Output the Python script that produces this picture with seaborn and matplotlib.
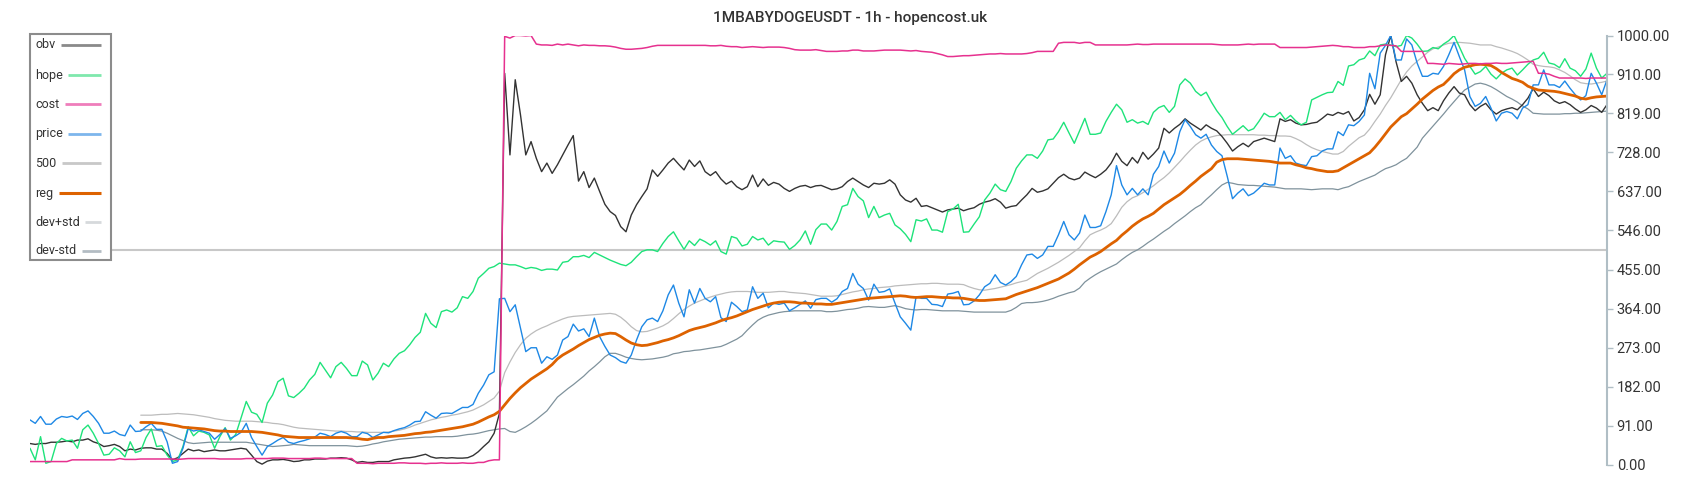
import numpy as np
import pandas as pd
import seaborn as sns
import matplotlib.pyplot as plt
from matplotlib.lines import Line2D
from matplotlib.patches import Rectangle

title = "1MBABYDOGEUSDT - 1h - hopencost.uk"
yticks = [0, 91, 182, 273, 364, 455, 546, 637, 728, 819, 910, 1000]
level = 500
warmup = 21  # reg / dev bands start after the rolling window

obv = [
    50, 48, 50, 50, 53, 53, 54, 56, 54, 58,
    58, 61, 54, 50, 43, 45, 48, 43, 33, 37,
    35, 39, 40, 40, 37, 37, 27, 12, 17, 27,
    37, 33, 35, 31, 33, 35, 33, 33, 35, 37,
    39, 37, 23, 8, 2, 9, 12, 12, 13, 11,
    8, 9, 12, 12, 14, 14, 14, 16, 16, 17,
    16, 12, 6, 8, 6, 6, 8, 8, 8, 12,
    14, 16, 17, 19, 22, 25, 19, 16, 17, 16,
    17, 16, 16, 17, 22, 31, 43, 54, 74, 120,
    912, 722, 897, 815, 722, 753, 714, 683, 703, 679,
    699, 722, 745, 767, 661, 683, 646, 668, 637, 607,
    590, 581, 555, 543, 582, 606, 625, 643, 687, 672,
    687, 703, 714, 700, 687, 710, 695, 708, 683, 674,
    683, 666, 654, 661, 648, 641, 648, 675, 648, 666,
    651, 658, 654, 644, 637, 644, 649, 651, 646, 650,
    651, 646, 641, 643, 648, 660, 668, 660, 652, 646,
    656, 654, 656, 664, 654, 629, 617, 612, 621, 602,
    604, 599, 594, 589, 594, 596, 598, 592, 596, 599,
    607, 612, 615, 620, 612, 598, 602, 604, 617, 629,
    644, 635, 638, 643, 656, 669, 677, 668, 664, 668,
    682, 675, 669, 677, 687, 703, 726, 707, 697, 716,
    703, 728, 712, 724, 738, 784, 773, 784, 793, 806,
    796, 788, 780, 792, 784, 778, 765, 749, 731, 741,
    749, 741, 753, 757, 761, 757, 753, 806, 800, 804,
    796, 792, 793, 796, 798, 807, 817, 814, 821, 817,
    823, 801, 809, 827, 863, 840, 862, 955, 1000, 939,
    893, 905, 889, 862, 842, 825, 832, 825, 848, 866,
    881, 866, 862, 839, 825, 835, 842, 827, 817, 825,
    829, 832, 827, 839, 854, 876, 858, 868, 860, 848,
    842, 846, 839, 829, 821, 827, 837, 831, 821, 839,
]

hope = [
    39, 12, 66, 4, 8, 50, 62, 56, 58, 39,
    82, 93, 74, 50, 23, 25, 40, 33, 19, 54,
    29, 33, 64, 84, 43, 45, 23, 8, 12, 43,
    89, 68, 79, 76, 70, 39, 66, 87, 58, 71,
    109, 148, 123, 118, 99, 144, 163, 194, 202, 161,
    157, 167, 179, 198, 211, 239, 221, 203, 229, 239,
    225, 208, 208, 242, 233, 198, 214, 237, 229, 247,
    260, 266, 280, 297, 309, 353, 330, 320, 357, 361,
    356, 366, 392, 388, 404, 435, 446, 458, 462, 470,
    468, 466, 466, 462, 457, 460, 458, 453, 456, 456,
    454, 472, 474, 485, 485, 488, 483, 495, 489, 483,
    477, 472, 467, 464, 472, 485, 497, 501, 501, 497,
    516, 532, 543, 522, 502, 522, 511, 526, 520, 512,
    522, 497, 491, 532, 528, 510, 514, 532, 524, 528,
    512, 522, 520, 519, 502, 511, 524, 545, 514, 548,
    561, 561, 547, 567, 602, 606, 644, 625, 615, 576,
    602, 576, 582, 586, 559, 550, 537, 520, 571, 568,
    573, 547, 547, 542, 590, 596, 607, 542, 543, 561,
    578, 617, 633, 654, 641, 637, 660, 691, 708, 722,
    722, 714, 731, 757, 759, 776, 798, 773, 749, 778,
    807, 770, 770, 773, 800, 821, 840, 827, 798, 804,
    796, 800, 793, 821, 832, 837, 821, 835, 885, 899,
    889, 870, 860, 868, 845, 825, 809, 788, 770, 780,
    790, 778, 783, 800, 819, 811, 811, 821, 804, 814,
    801, 792, 798, 850, 856, 862, 867, 868, 893, 884,
    929, 932, 943, 947, 964, 953, 978, 980, 978, 974,
    977, 1000, 994, 980, 963, 964, 972, 969, 980, 988,
    1000, 974, 947, 928, 910, 916, 928, 910, 899, 912,
    920, 924, 908, 920, 933, 943, 947, 961, 936, 933,
    925, 946, 924, 918, 905, 922, 959, 924, 901, 912,
]

cost = [
    8, 8, 8, 8, 8, 8, 8, 8, 12, 12,
    12, 12, 12, 12, 12, 12, 12, 15, 13, 13,
    13, 14, 14, 14, 14, 14, 14, 14, 13, 14,
    15, 15, 15, 15, 15, 15, 14, 14, 14, 14,
    14, 15, 15, 15, 15, 15, 16, 16, 16, 15,
    15, 15, 15, 15, 16, 16, 15, 15, 15, 15,
    15, 15, 4, 4, 4, 3, 4, 4, 4, 4,
    5, 5, 4, 4, 4, 3, 4, 4, 5, 4,
    4, 4, 5, 4, 4, 6, 6, 10, 12, 12,
    998, 994, 1000, 1000, 999, 1000, 980, 978, 978, 977,
    980, 978, 980, 978, 976, 978, 977, 977, 976, 976,
    975, 973, 970, 968, 968, 969, 970, 972, 975, 977,
    977, 977, 977, 977, 977, 977, 977, 977, 977, 976,
    976, 977, 975, 974, 974, 972, 973, 974, 973, 972,
    973, 973, 973, 972, 970, 967, 966, 966, 966, 967,
    965, 963, 963, 963, 964, 964, 966, 966, 964, 964,
    964, 965, 966, 966, 966, 966, 965, 964, 965, 963,
    962, 961, 958, 955, 951, 951, 952, 953, 953, 954,
    955, 956, 957, 957, 958, 957, 957, 957, 957, 958,
    960, 963, 963, 963, 963, 982, 984, 984, 984, 982,
    984, 984, 978, 978, 978, 978, 978, 978, 978, 979,
    980, 979, 979, 980, 980, 980, 980, 980, 980, 980,
    980, 980, 980, 980, 980, 979, 978, 978, 978, 978,
    979, 980, 979, 980, 980, 980, 980, 972, 972, 972,
    972, 972, 972, 973, 974, 975, 976, 977, 976, 974,
    974, 972, 972, 972, 974, 974, 976, 978, 977, 976,
    963, 963, 963, 963, 963, 935, 935, 934, 933, 935,
    934, 933, 934, 935, 935, 934, 935, 935, 936, 935,
    935, 936, 937, 938, 939, 940, 912, 912, 910, 905,
    901, 901, 901, 901, 901, 900, 901, 901, 901, 901,
]

price = [
    105, 97, 113, 95, 95, 107, 113, 111, 114, 106,
    120, 126, 113, 97, 74, 74, 79, 71, 68, 93,
    78, 79, 89, 97, 83, 83, 54, 4, 8, 39,
    85, 79, 82, 78, 74, 60, 71, 85, 62, 68,
    76, 97, 64, 43, 23, 43, 50, 58, 64, 53,
    50, 54, 57, 61, 65, 74, 71, 66, 74, 78,
    74, 66, 66, 76, 73, 64, 70, 76, 75, 80,
    84, 87, 93, 101, 102, 124, 116, 109, 120, 121,
    120, 127, 134, 134, 141, 167, 186, 210, 217, 387,
    388, 357, 373, 318, 264, 273, 273, 237, 252, 246,
    256, 291, 299, 328, 312, 317, 299, 342, 299, 276,
    256, 250, 241, 237, 256, 291, 322, 338, 342, 334,
    359, 396, 419, 377, 345, 408, 377, 411, 388, 380,
    392, 343, 334, 379, 369, 357, 361, 415, 388, 400,
    366, 377, 374, 377, 359, 366, 374, 382, 365, 385,
    388, 388, 379, 387, 404, 411, 446, 421, 411, 384,
    421, 402, 404, 410, 377, 345, 330, 314, 392, 388,
    388, 374, 373, 369, 398, 400, 404, 373, 374, 382,
    396, 415, 423, 443, 425, 419, 427, 439, 466, 489,
    491, 481, 489, 509, 509, 536, 567, 536, 524, 540,
    582, 553, 553, 557, 590, 629, 697, 652, 629, 644,
    629, 643, 629, 677, 695, 731, 703, 726, 776, 804,
    788, 769, 761, 770, 745, 730, 720, 672, 620, 633,
    643, 627, 633, 644, 656, 652, 652, 738, 714, 720,
    703, 699, 697, 718, 720, 731, 736, 736, 776, 767,
    792, 790, 800, 815, 912, 876, 959, 977, 1000, 943,
    943, 992, 978, 936, 905, 905, 912, 910, 928, 955,
    984, 951, 920, 858, 835, 842, 858, 831, 801, 819,
    823, 819, 806, 831, 839, 885, 885, 920, 885, 885,
    879, 894, 877, 862, 850, 860, 912, 889, 862, 897,
]

# rolling regression line and its +/- std band (from index `warmup` on)
reg = [
    99, 99, 99, 98, 97, 95, 93, 91, 88,
    87, 86, 85, 84, 82, 80, 79, 79, 78, 78,
    78, 78, 78, 77, 76, 74, 72, 70, 67, 66,
    65, 64, 64, 64, 64, 64, 64, 64, 64, 64,
    64, 63, 62, 60, 59, 62, 64, 64, 66, 67,
    68, 69, 71, 73, 74, 76, 77, 79, 81, 83,
    85, 87, 89, 92, 95, 100, 106, 112, 117, 125,
    140, 155, 168, 180, 190, 200, 208, 216, 224, 234,
    247, 256, 263, 270, 278, 285, 292, 297, 302, 305,
    307, 306, 299, 291, 284, 280, 278, 279, 282, 285,
    289, 292, 296, 301, 307, 313, 317, 320, 323, 327,
    331, 336, 340, 343, 347, 352, 357, 362, 366, 370,
    374, 377, 379, 380, 380, 379, 377, 377, 376, 375,
    375, 374, 374, 376, 378, 380, 382, 384, 386, 388,
    389, 390, 391, 392, 393, 394, 393, 391, 390, 391,
    392, 392, 391, 390, 390, 389, 389, 388, 386, 384,
    383, 383, 384, 385, 386, 387, 392, 397, 401, 405,
    409, 413, 418, 423, 428, 433, 440, 447, 456, 466,
    475, 484, 490, 497, 506, 515, 523, 535, 545, 556,
    565, 573, 579, 586, 596, 606, 614, 622, 630, 640,
    651, 661, 672, 681, 690, 705, 711, 713, 713, 713,
    712, 711, 710, 709, 708, 707, 705, 703, 703, 703,
    699, 696, 692, 690, 687, 685, 683, 683, 685, 692,
    699, 706, 713, 720, 727, 740, 755, 771, 787, 799,
    811, 818, 829, 840, 852, 862, 872, 880, 886, 898,
    911, 920, 926, 929, 932, 933, 932, 930, 923, 914,
    907, 900, 896, 891, 882, 877, 873, 872, 871, 870,
    868, 865, 862, 859, 854, 852, 855, 857, 858, 859,
]

dev_up = [
    116, 116, 116, 117, 118, 118, 119, 120, 119,
    118, 117, 115, 113, 111, 108, 106, 104, 103, 102,
    102, 102, 102, 101, 100, 99, 97, 96, 94, 91,
    88, 86, 85, 84, 83, 82, 81, 80, 79, 79,
    78, 78, 77, 77, 76, 76, 76, 76, 77, 79,
    81, 84, 88, 93, 97, 101, 105, 108, 111, 113,
    116, 118, 121, 124, 128, 134, 140, 148, 156, 172,
    215, 240, 262, 280, 295, 305, 313, 319, 324, 330,
    335, 340, 344, 346, 347, 348, 349, 350, 351, 352,
    353, 351, 344, 334, 322, 313, 310, 311, 315, 319,
    324, 331, 341, 352, 362, 370, 377, 382, 387, 391,
    395, 398, 401, 403, 404, 404, 404, 403, 402, 402,
    402, 403, 404, 404, 402, 401, 400, 399, 397, 395,
    393, 393, 393, 394, 397, 400, 403, 405, 408, 410,
    411, 413, 414, 415, 417, 418, 419, 420, 421, 422,
    422, 423, 423, 422, 421, 421, 421, 420, 415, 411,
    408, 407, 409, 411, 414, 417, 420, 424, 427, 430,
    438, 446, 452, 458, 465, 472, 480, 488, 497, 506,
    522, 536, 542, 547, 553, 562, 580, 600, 613, 622,
    627, 634, 642, 650, 660, 669, 680, 693, 706, 720,
    733, 745, 754, 760, 764, 767, 768, 769, 769, 769,
    769, 769, 769, 768, 768, 767, 767, 766, 766, 765,
    760, 754, 746, 739, 734, 730, 727, 724, 724, 730,
    742, 752, 762, 768, 782, 800, 817, 837, 855, 876,
    897, 915, 929, 940, 950, 961, 969, 973, 978, 982,
    983, 984, 983, 982, 980, 978, 978, 978, 974, 971,
    967, 963, 958, 951, 943, 933, 930, 928, 927, 925,
    920, 914, 906, 897, 890, 888, 887, 889, 891, 894,
]

dev_dn = [
    82, 82, 82, 81, 79, 74, 68, 62, 57,
    52, 50, 51, 52, 53, 53, 53, 53, 53, 53,
    53, 53, 51, 49, 47, 45, 43, 44, 45, 46,
    48, 47, 46, 45, 45, 45, 45, 45, 45, 45,
    45, 44, 43, 44, 46, 49, 51, 54, 56, 58,
    60, 61, 62, 63, 64, 65, 65, 66, 66, 66,
    66, 67, 69, 71, 72, 74, 77, 80, 82, 84,
    85, 78, 76, 82, 89, 97, 106, 116, 126, 142,
    158, 168, 178, 187, 197, 207, 219, 229, 240, 252,
    260, 260, 256, 251, 248, 246, 245, 246, 247, 249,
    251, 254, 259, 261, 264, 265, 267, 268, 270, 272,
    274, 276, 281, 287, 293, 301, 314, 326, 337, 344,
    349, 352, 355, 357, 358, 359, 359, 359, 359, 359,
    359, 357, 357, 358, 360, 362, 363, 365, 368, 369,
    368, 367, 367, 369, 371, 368, 364, 362, 361, 362,
    362, 361, 360, 359, 359, 359, 359, 358, 357, 356,
    356, 356, 356, 356, 356, 356, 360, 367, 376, 378,
    378, 379, 381, 384, 388, 393, 397, 401, 404, 412,
    426, 435, 443, 450, 456, 462, 468, 478, 487, 495,
    501, 509, 518, 526, 535, 544, 552, 562, 571, 580,
    590, 599, 606, 618, 629, 641, 652, 658, 656, 653,
    652, 651, 651, 650, 649, 648, 647, 645, 643, 643,
    643, 643, 642, 641, 642, 643, 643, 643, 641, 645,
    648, 654, 660, 665, 670, 675, 683, 690, 694, 699,
    707, 714, 727, 740, 761, 775, 789, 803, 817, 832,
    846, 860, 873, 880, 887, 889, 886, 881, 874, 866,
    858, 852, 845, 836, 829, 819, 818, 817, 817, 817,
    817, 818, 818, 819, 819, 820, 821, 822, 823, 824,
]

pad = [np.nan] * warmup
df = pd.DataFrame({
    "t": np.arange(len(price)),
    "obv": obv, "hope": hope, "cost": cost, "price": price,
    "reg": pad + reg, "dev+std": pad + dev_up, "dev-std": pad + dev_dn,
})

sns.set_theme(style="white")
plt.rcParams["font.family"] = ["Roboto", "DejaVu Sans"]

W, H = 1700, 500
fig = plt.figure(figsize=(W / 100, H / 100), dpi=100)
ax = fig.add_axes([30 / W, 35 / H, (1607 - 30) / W, (465 - 35.5) / H])

styles = {
    "obv": ("#333333", 1.0),
    "hope": ("#1ee37a", 1.0),
    "cost": ("#e6318f", 1.1),
    "price": ("#1e88e5", 1.0),
    "reg": ("#dd6200", 2.0),
    "dev+std": ("#bcbcbc", 0.9),
    "dev-std": ("#7f929c", 0.9),
}

ax.axhline(level, color="#c8c8c8", lw=1.5, zorder=1)
for name in ["dev+std", "dev-std", "obv", "hope", "price", "reg", "cost"]:
    c, lw = styles[name]
    sns.lineplot(data=df, x="t", y=name, color=c, lw=lw, ax=ax)

ax.set_xlim(0, len(price) - 1)
ax.set_ylim(0, 1000)
ax.set_xlabel("")
ax.set_ylabel("")
ax.set_xticks([])
for s in ["left", "top", "bottom"]:
    ax.spines[s].set_visible(False)
ax.spines["right"].set_color("#b0bec5")
ax.spines["right"].set_linewidth(1.5)
ax.yaxis.tick_right()
ax.set_yticks(yticks)
ax.set_yticklabels([f"{v:.2f}" for v in yticks])
ax.tick_params(axis="y", which="both", right=True, left=False, length=4, width=1,
               color="#b0bec5", labelcolor="#333333", labelsize=10.5, pad=3)

fig.text(850 / W, 1 - 18 / H, title, ha="center", va="center",
         fontsize=11, color="#333333", fontweight="medium")

# legend box, drawn by hand: labels left, swatches right-aligned
entries = [
    ("obv", "#8a8a8a", 2.0, 45),
    ("hope", "#7fe8ad", 2.0, 75),
    ("cost", "#ef7dbb", 2.0, 104),
    ("price", "#7db6ec", 2.0, 134),
    ("500", "#c8c8c8", 2.0, 163),
    ("reg", "#dd6200", 2.2, 193),
    ("dev+std", "#d6d9dc", 2.0, 222),
    ("dev-std", "#b3bcc3", 2.0, 251),
]
fig.add_artist(Rectangle((30 / W, 1 - 260 / H), 81 / W, 225.5 / H, transform=fig.transFigure,
                         facecolor="white", edgecolor="#8c8c8c", lw=1.5, zorder=5))
texts = []
for lab, c, lw, y in entries:
    texts.append(fig.text(35.5 / W, 1 - y / H, lab, ha="left", va="center",
                          fontsize=9, color="#333333", zorder=6))
fig.canvas.draw()
r = fig.canvas.get_renderer()
for t, (lab, c, lw, y) in zip(texts, entries):
    x0 = t.get_window_extent(r).x1 + 5
    fig.add_artist(Line2D([x0 / W, 101 / W], [1 - y / H, 1 - y / H], transform=fig.transFigure,
                          color=c, lw=lw, solid_capstyle="butt", zorder=6))

fig.savefig("out.png", dpi=100)
